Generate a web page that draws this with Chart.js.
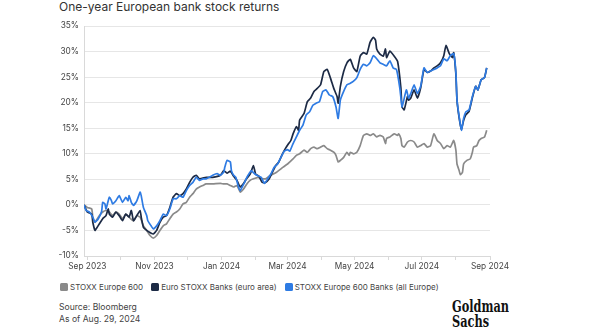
<!DOCTYPE html>
<html>
<head>
<meta charset="utf-8">
<script src="https://cdn.jsdelivr.net/npm/chart.js@4.4.1/dist/chart.umd.min.js"></script>
<style>
  html, body { margin:0; padding:0; background:#fff; width:600px; height:334px; overflow:hidden; }
  body { position:relative; font-family: Inter, "Open Sans", sans-serif; }
  #title { position:absolute; left:59px; top:0px; font-size:12px; line-height:14px; color:#333; white-space:nowrap; }
  #wrap { position:absolute; left:0; top:0; width:600px; height:276px; }
  #legend { position:absolute; left:60px; top:280px; font-size:8px; line-height:14px; color:#444; white-space:nowrap; display:flex; }
  #legend .item { display:flex; align-items:center; margin-right:8px; }
  #legend .box { width:8px; height:8px; border-radius:1.5px; margin-right:2px; }
  #source { position:absolute; left:59px; top:301px; font-size:8.6px; line-height:12.3px; color:#444; white-space:nowrap; }
  #logo { position:absolute; left:452px; top:299px; font-family:"DejaVu Serif Condensed","DejaVu Serif",serif; font-weight:bold; font-size:17px; line-height:14.5px; color:#111; transform-origin:0 0; white-space:nowrap; }
</style>
</head>
<body>
<div id="title">One-year European bank stock returns</div>
<div id="wrap"><canvas id="c" width="600" height="276"></canvas></div>
<div id="legend"></div>
<div id="source">Source: Bloomberg<br>As of Aug. 29, 2024</div>
<div id="logo"><span id="g1">Goldman</span><br><span>Sachs</span></div>
<script>
// x values are days since 1 Sep 2023; y values are returns in %
const seriesNames = ['STOXX Europe 600', 'Euro STOXX Banks (euro area)', 'STOXX Europe 600 Banks (all Europe)'];
const tickLabels = ['Sep 2023','Nov 2023','Jan 2024','Mar 2024','May 2024','Jul 2024','Sep 2024'];
const yTicks = [-10, -5, 0, 5, 10, 15, 20, 25, 30, 35];

const stoxxEurope600 = [[-3,0],[0,-0.5],[4,-0.8],[5,-2.4],[7,-3.4],[8,-3.1],[11,-2.1],[14,-1.4],[17,-1.1],[20,-1.4],[23,-2.1],[26,-1.4],[29,-1.8],[32,-2.7],[35,-1.8],[38,-2.4],[42,-3.1],[45,-2.1],[48,-2.4],[51,-4.1],[54,-5.0],[57,-6.0],[60,-6.5],[63,-6.0],[66,-5.0],[69,-4.1],[72,-3.7],[75,-2.7],[78,-1.8],[81,-1.4],[84,-0.8],[87,0.2],[90,0.5],[93,1.5],[96,2.2],[99,3.1],[102,3.5],[105,3.8],[108,4.1],[114,4.1],[121,4.2],[124,4.1],[127,4.1],[130,3.8],[133,3.5],[136,3.8],[139,2.5],[142,3.1],[145,4.1],[148,4.8],[151,5.1],[155,5.4],[158,5.2],[162,5.1],[166,5.7],[172,6.4],[178,7.4],[182,8.0],[184,8.4],[187,9.0],[190,9.7],[193,10.0],[197,10.7],[200,10.3],[203,11.0],[206,11.3],[209,11.0],[212,11.3],[215,11.6],[218,11.0],[221,10.7],[224,10.3],[226,9.7],[228,8.4],[230,8.7],[233,9.3],[236,10.3],[238,9.7],[239,10.3],[242,10.0],[245,10.3],[248,11.6],[251,13.6],[254,13.9],[257,13.6],[260,13.9],[263,13.3],[266,13.6],[269,13.3],[271,12.0],[272,13.0],[275,13.3],[279,13.9],[282,13.6],[283,13.9],[285,13.0],[286,11.6],[288,11.3],[291,12.3],[294,12.6],[297,12.3],[300,11.3],[303,11.6],[306,12.0],[309,11.3],[312,11.6],[315,13.9],[318,12.6],[321,12.0],[324,11.0],[327,11.6],[330,11.3],[333,12.6],[335,10.7],[336,8.0],[338,6.7],[339,5.9],[341,6.4],[342,8.0],[345,8.7],[348,9.0],[350,10.3],[351,11.3],[354,11.6],[356,12.6],[358,13.0],[361,13.3],[363,14.6]];

const euroStoxxBanks = [[-3,0],[0,-1.4],[4,-1.8],[5,-3.4],[7,-5.0],[8,-4.7],[11,-3.7],[14,-2.7],[17,-2.1],[19,-0.8],[20,-1.8],[23,-2.4],[26,-1.4],[29,-2.1],[32,-3.1],[35,-1.8],[38,-2.4],[40,-1.1],[42,-3.1],[45,-2.1],[48,-1.1],[49,-2.4],[51,-4.4],[54,-5.0],[57,-5.4],[60,-5.7],[63,-5.0],[66,-3.4],[69,-2.4],[72,-2.1],[75,-0.5],[78,1.5],[81,2.2],[84,1.8],[87,2.2],[90,3.1],[93,4.4],[96,5.4],[99,5.8],[102,5.1],[108,5.4],[114,5.4],[121,5.8],[124,6.7],[127,6.2],[130,6.6],[133,5.6],[136,4.8],[139,3.5],[142,4.2],[145,5.2],[148,6.0],[151,7.7],[153,6.0],[156,5.6],[159,4.4],[162,4.4],[165,5.0],[168,6.3],[171,7.6],[174,8.4],[177,9.8],[180,11.0],[183,12.0],[185,12.6],[187,13.9],[190,15.3],[192,14.6],[193,16.6],[197,17.9],[200,20.2],[203,20.9],[206,22.2],[209,22.8],[212,23.5],[215,26.1],[218,26.5],[221,24.8],[224,22.8],[227,21.2],[228,19.9],[230,23.2],[233,26.1],[236,27.8],[239,28.5],[242,26.8],[245,26.1],[248,29.1],[251,29.8],[254,29.5],[257,31.8],[260,32.8],[262,32.2],[263,30.5],[266,29.5],[269,29.1],[271,30.5],[272,28.8],[275,30.1],[279,29.1],[282,28.1],[285,22.9],[286,19.2],[288,18.6],[291,21.2],[292,20.5],[294,20.9],[297,22.5],[300,20.9],[303,22.9],[306,26.5],[309,25.9],[312,26.2],[315,26.8],[318,27.2],[321,27.8],[324,29.2],[326,31.2],[329,29.6],[332,28.8],[333,29.8],[335,25.5],[336,20.5],[338,17.0],[340,14.8],[342,16.5],[344,17.6],[347,18.3],[350,21.0],[353,23.2],[355,22.5],[358,24.5],[361,24.9],[363,26.8]];

const stoxxEurope600Banks = [[-3,0],[-1,-1.1],[2,-1.4],[5,-2.4],[7,-3.4],[10,-2.7],[13,-1.3],[14,0.5],[16,0.2],[17,-0.8],[20,1.5],[22,0.8],[23,0.2],[26,0.8],[29,1.8],[32,0.5],[35,1.5],[37,0.8],[38,1.8],[40,0.5],[42,-0.1],[45,0.8],[48,2.5],[49,1.8],[51,-0.5],[54,-2.1],[55,-3.1],[58,-4.1],[60,-4.7],[63,-4.1],[66,-3.1],[69,-1.8],[72,-2.1],[75,-0.8],[78,1.2],[81,1.2],[84,1.8],[87,1.5],[90,2.8],[93,3.8],[96,4.4],[99,5.4],[102,4.8],[105,5.1],[108,5.1],[111,5.4],[114,5.8],[118,6.1],[121,5.8],[124,6.4],[125,7.4],[127,8.7],[130,8.4],[131,6.7],[133,5.8],[135,5.4],[137,3.8],[139,2.8],[141,3.6],[143,4.4],[145,5.4],[147,6.1],[149,6.7],[152,6.1],[155,5.7],[158,5.4],[161,4.2],[164,5.1],[167,6.1],[170,7.4],[173,8.0],[176,9.3],[179,10.5],[182,10.8],[184,10.5],[187,12.0],[190,13.3],[193,14.6],[196,15.6],[199,17.6],[202,18.2],[205,19.5],[208,19.9],[211,20.2],[214,22.2],[217,22.5],[220,21.5],[223,21.2],[226,19.2],[228,16.9],[230,20.5],[233,22.2],[236,23.5],[239,23.8],[242,24.2],[245,24.9],[248,26.5],[251,27.5],[254,27.2],[257,27.8],[260,29.2],[263,28.6],[266,27.8],[269,27.5],[272,27.2],[275,28.2],[278,26.8],[281,26.5],[284,22.9],[286,19.2],[287,19.9],[290,22.5],[292,20.9],[294,21.8],[297,23.5],[300,21.8],[303,23.2],[306,26.8],[309,25.9],[312,26.2],[315,26.5],[318,26.8],[321,27.2],[324,28.6],[327,28.2],[330,29.2],[333,29.6],[335,25.9],[336,20.5],[338,17.2],[340,14.6],[342,16.9],[344,18.2],[347,18.6],[350,21.2],[353,23.2],[355,22.5],[358,24.5],[361,24.9],[363,26.8]];

const colors = ['#8a8a8a', '#1c2a45', '#2e7be3'];

// month-start tick positions (days since 1 Sep 2023)
const start = Date.UTC(2023, 8, 1);
const monthTicks = [];
for (let m = 0; m <= 12; m++) {
  monthTicks.push(Math.round((Date.UTC(2023, 8 + m, 1) - start) / 86400000));
}

const toPts = arr => arr.map(p => ({x: p[0], y: p[1]}));
const allSeries = [stoxxEurope600, euroStoxxBanks, stoxxEurope600Banks];
const orders = [2, 1, 0];

Chart.defaults.font.family = 'Inter, "Open Sans", sans-serif';

new Chart(document.getElementById('c'), {
  type: 'line',
  data: {
    datasets: allSeries.map((s, i) => ({
      label: seriesNames[i],
      data: toPts(s),
      borderColor: colors[i],
      backgroundColor: colors[i],
      borderWidth: 1.7,
      pointRadius: 0,
      tension: 0.15,
      order: orders[i]
    }))
  },
  options: {
    responsive: false,
    animation: false,
    parsing: false,
    layout: { padding: { left: 59, right: 110, top: 26, bottom: 0 } },
    plugins: { legend: { display: false }, tooltip: { enabled: false } },
    scales: {
      x: {
        type: 'linear', min: -3, max: 366,
        afterBuildTicks: s => { s.ticks = monthTicks.map(v => ({ value: v })); },
        afterFit: s => { s.height = 20; },
        ticks: {
          autoSkip: false, maxRotation: 0, padding: 2,
          color: '#444', font: { size: 8.3 },
          callback: (v, i) => (i % 2 === 0 ? tickLabels[i / 2] : '')
        },
        grid: { drawOnChartArea: false, drawTicks: true, tickLength: 4, color: '#d9d9d9' },
        border: { display: true, color: '#d9d9d9' }
      },
      y: {
        min: -10, max: 35,
        afterBuildTicks: s => { s.ticks = yTicks.map(v => ({ value: v })); },
        afterFit: s => { s.width = 25; },
        ticks: { padding: 5, color: '#444', font: { size: 8.3 }, callback: v => v + '%' },
        grid: { drawTicks: false, color: '#e6e6e6' },
        border: { display: true, color: '#d9d9d9' }
      }
    }
  }
});

// HTML legend
const lg = document.getElementById('legend');
seriesNames.forEach((n, i) => {
  const it = document.createElement('div'); it.className = 'item';
  const b = document.createElement('div'); b.className = 'box'; b.style.background = colors[i];
  const t = document.createElement('span'); t.textContent = n;
  it.appendChild(b); it.appendChild(t); lg.appendChild(it);
});

// fit logo width
const g1 = document.getElementById('g1');
const w = g1.getBoundingClientRect().width;
document.getElementById('logo').style.transform = 'scaleX(' + (57 / w) + ')';
</script>
</body>
</html>
